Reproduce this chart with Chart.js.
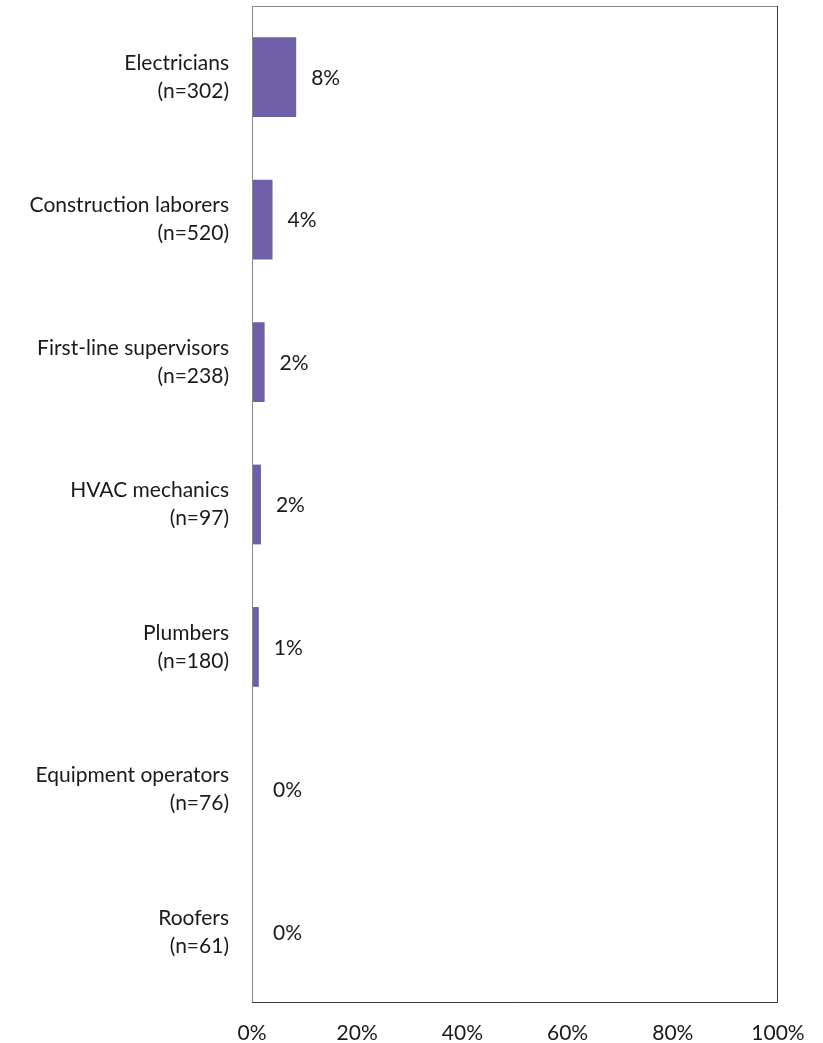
<!DOCTYPE html>
<html>
<head>
<meta charset="utf-8">
<script src="https://cdn.jsdelivr.net/npm/chart.js@4/dist/chart.umd.min.js"></script>
<style>
  html, body { margin: 0; padding: 0; background: #fff; }
  #wrap { width: 823px; height: 1043px; }
</style>
</head>
<body>
<div id="wrap"><canvas id="chart"></canvas></div>
<script>
// share of each trade, percent
var oficios = [
  ['Electricians', '(n=302)'],
  ['Construction laborers', '(n=520)'],
  ['First-line supervisors', '(n=238)'],
  ['HVAC mechanics', '(n=97)'],
  ['Plumbers', '(n=180)'],
  ['Equipment operators', '(n=76)'],
  ['Roofers', '(n=61)']
];
var porcentajes = [8.4, 3.9, 2.4, 1.7, 1.3, 0, 0];
var ticksX = [0, 20, 40, 60, 80, 100];

var fuente = 'Lato, "Open Sans", sans-serif';
var colorTexto = '#1a1a1a';

// marco alrededor del área de trazado
var marco = {
  id: 'marco',
  afterDraw: function (chart) {
    var a = chart.chartArea, ctx = chart.ctx;
    ctx.save();
    ctx.lineWidth = 1;
    ctx.strokeStyle = '#8a8a8a';
    ctx.beginPath();
    ctx.moveTo(a.left + 0.5, a.bottom);
    ctx.lineTo(a.left + 0.5, a.top + 0.5);
    ctx.lineTo(a.right, a.top + 0.5);
    ctx.stroke();
    ctx.strokeStyle = '#3a3a3a';
    ctx.beginPath();
    ctx.moveTo(a.right - 0.5, a.top);
    ctx.lineTo(a.right - 0.5, a.bottom - 0.5);
    ctx.lineTo(a.left, a.bottom - 0.5);
    ctx.stroke();
    ctx.restore();
  }
};

// etiqueta con el valor a la derecha de cada barra
var etiquetas = {
  id: 'etiquetas',
  afterDatasetsDraw: function (chart) {
    var ctx = chart.ctx;
    var meta = chart.getDatasetMeta(0);
    var izq = chart.chartArea.left;
    ctx.save();
    ctx.font = '21px ' + fuente;
    ctx.fillStyle = colorTexto;
    ctx.textAlign = 'left';
    ctx.textBaseline = 'middle';
    meta.data.forEach(function (bar, i) {
      var x = Math.max(bar.x + 15, izq + 21);
      ctx.fillText(Math.round(porcentajes[i]) + '%', x, bar.y + 1);
    });
    ctx.restore();
  }
};

new Chart(document.getElementById('chart').getContext('2d'), {
  type: 'bar',
  data: {
    labels: oficios,
    datasets: [{
      data: porcentajes,
      backgroundColor: '#6f5fa8',
      categoryPercentage: 1,
      barPercentage: 0.56
    }]
  },
  options: {
    indexAxis: 'y',
    responsive: true,
    maintainAspectRatio: false,
    animation: false,
    layout: { padding: { top: 6, right: 45, left: 0, bottom: 0 } },
    plugins: { legend: { display: false }, tooltip: { enabled: false } },
    scales: {
      x: {
        min: 0,
        max: 100,
        afterBuildTicks: function (s) { s.ticks = ticksX.map(function (v) { return { value: v }; }); },
        afterFit: function (s) { s.height = 40; },
        grid: { display: false, drawTicks: false },
        border: { display: false },
        ticks: {
          color: colorTexto,
          font: { family: fuente, size: 21 },
          padding: 18,
          maxRotation: 0,
          callback: function (v) { return v + '%'; }
        }
      },
      y: {
        afterFit: function (s) {
          s.width = 252;
          s.paddingTop = 0;
          s.paddingBottom = 0;
        },
        grid: { display: false, drawTicks: false },
        border: { display: false },
        ticks: {
          color: colorTexto,
          font: { family: fuente, size: 21, lineHeight: 1.33 },
          padding: 23
        }
      }
    }
  },
  plugins: [marco, etiquetas]
});
</script>
</body>
</html>
